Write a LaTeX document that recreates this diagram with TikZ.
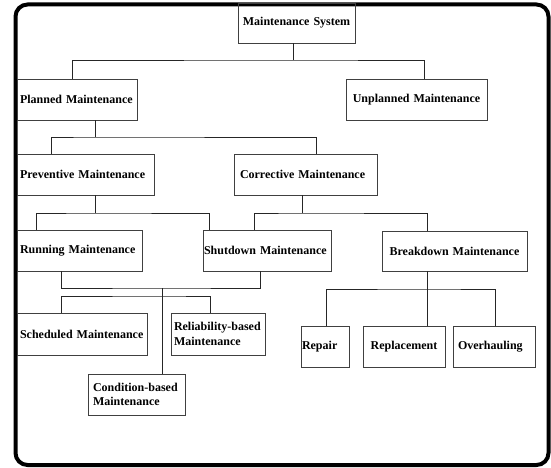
\documentclass[tikz,border=0pt]{standalone}
\usepackage{fontspec}
\setmainfont{Liberation Serif}
\begin{document}
\begin{tikzpicture}[x=1pt,y=-1pt,
  box/.style={draw=black!75, line width=0.9pt, rectangle, inner ysep=0pt, align=left,
    font=\bfseries\fontsize{12}{14.5}\selectfont},
  cbox/.style={box, align=center},
  link/.style={draw=black!85, line width=0.9pt},
  frame/.style={draw=black, line width=4pt, rounded corners=12pt}]
\useasboundingbox (0,0) rectangle (551,468);
\draw[frame] (15.5,4.5) rectangle (548.5,465);

\node[cbox, text width=111, inner xsep=3, minimum height=40] (ms) at (296.5,23) {Maintenance System};
\node[box, text width=114, inner xsep=3, minimum height=41] (pm) at (77,99.5) {Planned Maintenance};
\node[cbox, text width=135, inner xsep=3, minimum height=41] (um) at (416.5,99.5) {Unplanned Maintenance};
\node[box, text width=131, inner xsep=3, minimum height=41] (prev) at (85.5,174.5) {Preventive Maintenance};
\node[box, text width=131, inner xsep=6, minimum height=41] (corr) at (305.5,174.5) {Corrective Maintenance};
\node[box, text width=119, inner xsep=3, minimum height=41] (run) at (79.5,250.5) {Running Maintenance};
\node[box, text width=126, inner xsep=1, minimum height=41] (shut) at (267,250.5) {Shutdown Maintenance};
\node[cbox, text width=139, inner xsep=3, minimum height=40] (brk) at (454.5,251) {Breakdown Maintenance};
\node[box, text width=124, inner xsep=3, minimum height=42] (sched) at (82,334) {Scheduled Maintenance};
\node[box, text width=88, inner xsep=3, minimum height=42] (rel) at (218,334) {Reliability-based\\Maintenance};
\node[box, text width=87, inner xsep=5, minimum height=41] (cond) at (136.5,394.5) {Condition-based\\Maintenance};
\node[box, text width=46, inner xsep=1, minimum height=41] (rep) at (325,346.5) {Repair};
\node[cbox, text width=76, inner xsep=3, minimum height=41] (repl) at (404,346.5) {Replacement};
\node[box, text width=72, inner xsep=5, minimum height=41] (ovh) at (494,346.5) {Overhauling};

\coordinate (j1) at (293,60);
\coordinate (j2) at (95,137);
\coordinate (j3) at (95,213);
\coordinate (j4) at (302,213);
\coordinate (j5) at (162,288);
\coordinate (j6) at (162,296);
\coordinate (j7) at (427,289);

\draw[link] ([xshift=-3.5]ms.south) -- (j1);
\draw[link] ([xshift=-5]pm.north) |- (j1) -| ([xshift=7.5]um.north);

\draw[link] ([xshift=18]pm.south) -- (j2);
\draw[link] ([xshift=-34.5]prev.north) |- (j2) -| ([xshift=10.5]corr.north);

\draw[link] ([xshift=9.5]prev.south) -- (j3);
\draw[link] ([xshift=-43.5]run.north) |- (j3) -| ([xshift=-58]shut.north);

\draw[link] ([xshift=-3.5]corr.south) -- (j4);
\draw[link] ([xshift=-13]shut.north) |- (j4) -| ([xshift=-27.5]brk.north);

\draw[link] ([xshift=-18.5]run.south) |- (j5) -| ([xshift=-7]shut.south);
\draw[link] (j5) -- ([xshift=25.5]cond.north);
\draw[link] ([xshift=-21]sched.north) |- (j6) -| ([xshift=-8]rel.north);

\draw[link] ([xshift=-27.5]brk.south) -- (j7);
\draw[link] ([xshift=1]rep.north) |- (j7) -| ([xshift=1]ovh.north);
\draw[link] (j7) -- ([xshift=23]repl.north);
\end{tikzpicture}
\end{document}
